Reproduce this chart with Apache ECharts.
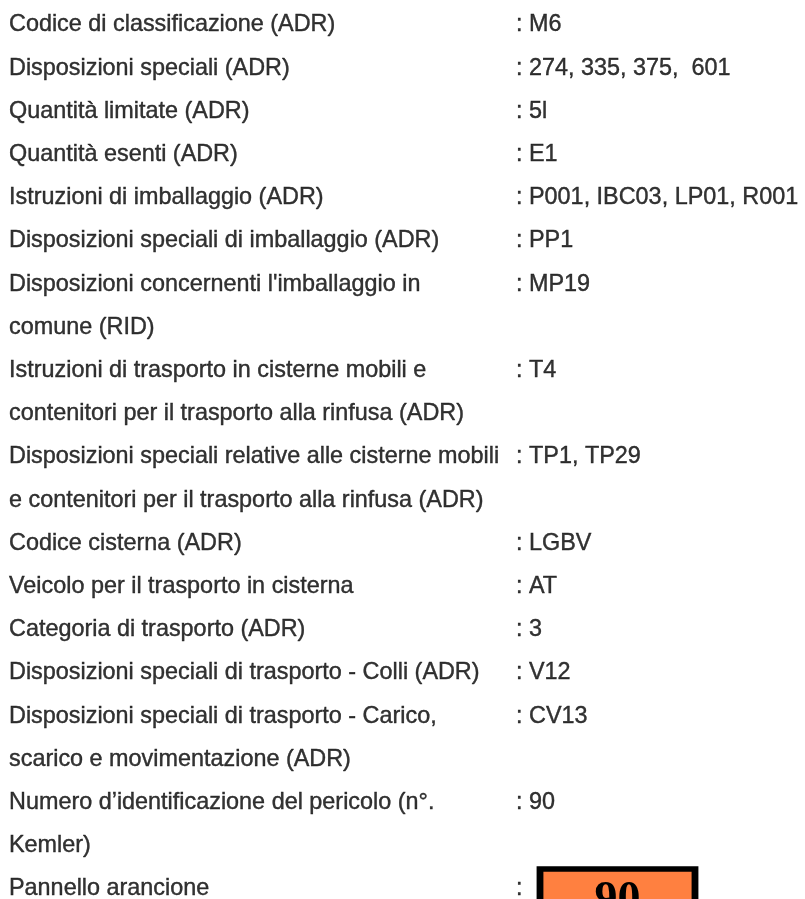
<!DOCTYPE html>
<html>
<head>
<meta charset="utf-8">
<script src="https://cdn.jsdelivr.net/npm/echarts@6/dist/echarts.min.js"></script>
<style>
  html, body { margin: 0; padding: 0; background: #ffffff; }
  #chart { width: 805px; height: 899px; }
</style>
</head>
<body>
<div id="chart"></div>
<script>
// ---- data ----
const labelLines = [
  ["Codice di classificazione (ADR)"],
  ["Disposizioni speciali (ADR)"],
  ["Quantità limitate (ADR)"],
  ["Quantità esenti (ADR)"],
  ["Istruzioni di imballaggio (ADR)"],
  ["Disposizioni speciali di imballaggio (ADR)"],
  ["Disposizioni concernenti l'imballaggio in", "comune (RID)"],
  ["Istruzioni di trasporto in cisterne mobili e", "contenitori per il trasporto alla rinfusa (ADR)"],
  ["Disposizioni speciali relative alle cisterne mobili", "e contenitori per il trasporto alla rinfusa (ADR)"],
  ["Codice cisterna (ADR)"],
  ["Veicolo per il trasporto in cisterna"],
  ["Categoria di trasporto (ADR)"],
  ["Disposizioni speciali di trasporto - Colli (ADR)"],
  ["Disposizioni speciali di trasporto - Carico,", "scarico e movimentazione (ADR)"],
  ["Numero d’identificazione del pericolo (n°.", "Kemler)"],
  ["Pannello arancione"]
];
const entryValues = [
  "M6",
  "274, 335, 375,  601",
  "5l",
  "E1",
  "P001, IBC03, LP01, R001",
  "PP1",
  "MP19",
  "T4",
  "TP1, TP29",
  "LGBV",
  "AT",
  "3",
  "V12",
  "CV13",
  "90",
  ""
];
const panelNumber = "90";
const columns = ["label", "value"];

// ---- build series data from arrays ----
const labelData = [];
const valueData = [];
let row = 0;
labelLines.forEach(function (lines, i) {
  valueData.push({ value: [1, row], name: entryValues[i] ? ": " + entryValues[i] : ":" });
  lines.forEach(function (line) {
    labelData.push({ value: [0, row], name: line });
    row++;
  });
});
const panelRow = row - 1;

const textStyle = {
  show: true,
  position: 'right',
  distance: 0,
  formatter: '{b}',
  color: '#000000',
  textBorderColor: '#000000',
  textBorderWidth: 0.4,
  fontFamily: "'Liberation Sans', Arial, sans-serif",
  fontSize: 23.4,
  fontWeight: 'normal'
};

const chart = echarts.init(document.getElementById('chart'), null, { renderer: 'canvas' });
chart.setOption({
  animation: false,
  backgroundColor: '#ffffff',
  grid: { left: 9, right: 289, top: 0, bottom: 0, containLabel: false },
  xAxis: {
    type: 'category',
    data: columns,
    boundaryGap: false,
    show: false
  },
  yAxis: {
    type: 'value',
    inverse: true,
    min: -0.5787,
    max: 20.2315,
    show: false
  },
  series: [
    {
      name: 'labels',
      type: 'scatter',
      symbolSize: 0,
      itemStyle: { color: 'rgba(0,0,0,0)' },
      label: textStyle,
      data: labelData,
      silent: true
    },
    {
      name: 'values',
      type: 'scatter',
      symbolSize: 0,
      itemStyle: { color: 'rgba(0,0,0,0)' },
      label: textStyle,
      data: valueData,
      silent: true
    },
    {
      name: 'panel',
      type: 'scatter',
      symbol: 'rect',
      symbolSize: [155, 120],
      symbolOffset: [101.5, 40],
      itemStyle: { color: '#FF8040', borderColor: '#000000', borderWidth: 6, opacity: 1 },
      label: {
        show: true,
        position: 'insideTop',
        distance: 12,
        formatter: '{b}',
        color: '#000000',
        fontFamily: "'Liberation Serif', 'Times New Roman', serif",
        fontWeight: 'bold',
        fontSize: 46
      },
      data: [{ value: [1, panelRow], name: panelNumber }],
      silent: true
    }
  ]
});
</script>
</body>
</html>
